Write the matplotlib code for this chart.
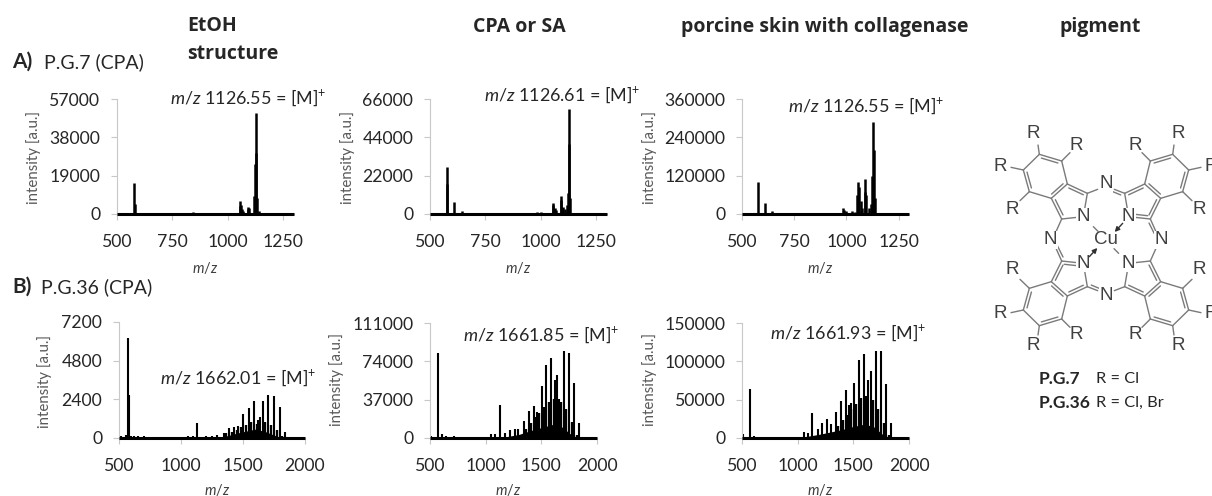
import numpy as np
import matplotlib
matplotlib.use('Agg')
import matplotlib.pyplot as plt

plt.rcParams['font.family'] = ['Lato', 'DejaVu Sans']
plt.rcParams['mathtext.fontset'] = 'custom'
plt.rcParams['mathtext.rm'] = 'Lato'
plt.rcParams['mathtext.it'] = 'Lato:italic'
plt.rcParams['mathtext.bf'] = 'Lato:bold'

W, H = 1212, 496
TEXT = '#262626'
GREY = '#c8c8c8'

# --- spectra: peak positions and heights ---
a1_mz = [576, 580, 845, 870, 985, 1000, 1054, 1057, 1062, 1066, 1070, 1090, 1092, 1097, 1120, 1122, 1126, 1130, 1134, 1140]
a1_int = [15500, 5000, 800, 600, 700, 500, 4000, 6500, 4500, 2500, 1500, 2500, 3500, 3000, 9000, 25000, 50000, 30000, 8000, 1500]
a2_mz = [575, 579, 610, 645, 680, 985, 1000, 1054, 1057, 1065, 1070, 1090, 1092, 1100, 1108, 1118, 1122, 1126, 1130, 1135]
a2_int = [27000, 17000, 7000, 1500, 500, 1000, 1000, 5000, 6500, 3500, 2500, 8000, 10500, 4000, 3000, 5000, 12000, 60000, 40000, 9000]
a3_mz = [525, 575, 610, 645, 985, 990, 1000, 1025, 1040, 1052, 1055, 1060, 1068, 1075, 1088, 1090, 1095, 1108, 1118, 1122, 1126, 1130, 1135]
a3_int = [3000, 100000, 35000, 8000, 20000, 14000, 10000, 10000, 6000, 60000, 100000, 85000, 40000, 20000, 70000, 110000, 60000,
          18000, 30000, 120000, 287000, 200000, 50000]
b1_mz = [520, 560, 575, 580, 600, 620, 650, 700, 760, 830, 900, 1000, 1060, 1100, 1127, 1205, 1250, 1290, 1345, 1386, 1429, 1461,
         1502, 1545, 1590, 1618, 1639, 1660, 1704, 1747, 1795, 1841]
b1_int = [100, 200, 6200, 2700, 130, 150, 110, 100, 90, 70, 60, 70, 120, 150, 950, 100, 130, 180, 280, 600, 700, 750,
          1500, 1850, 2300, 1100, 1300, 2300, 2700, 2600, 1950, 350]
b2_mz = [505, 575, 610, 640, 720, 1050, 1085, 1126, 1170, 1220, 1260, 1290, 1340, 1385, 1430, 1465, 1505, 1545,
         1590, 1620, 1640, 1660, 1705, 1750, 1795, 1840]
b2_int = [2000, 82000, 4000, 2000, 1500, 3500, 4000, 32000, 5000, 7500, 9000, 9000, 16000, 26000, 31000, 25000,
          50000, 70000, 77000, 56000, 61000, 38000, 84000, 82000, 53000, 14000]
b3_mz = [505, 575, 610, 1055, 1090, 1126, 1180, 1220, 1265, 1300, 1345, 1390, 1435, 1465, 1480, 1510, 1550,
         1595, 1635, 1655, 1705, 1750, 1795, 1840]
b3_int = [5000, 64000, 2000, 8000, 7000, 32000, 12000, 19000, 25000, 18000, 34000, 48000, 62000, 43000, 46000,
          72000, 102000, 109000, 76000, 87000, 114000, 113000, 71000, 19000]

# smaller isotope peaks between the main ones
minor_mz = [1365, 1408, 1450, 1482, 1525, 1568, 1612, 1680, 1726, 1771, 1818]
b1_minor = [300, 400, 500, 700, 800, 1000, 900, 1000, 800, 500, 100]
b2_minor = [9000, 14000, 20000, 24000, 30000, 35000, 38000, 35000, 28000, 15000, 3000]
b3_minor = [16000, 24000, 30000, 38000, 45000, 52000, 55000, 50000, 38000, 20000, 4000]

# dense low envelope under the isotope clusters of the B row
b1_hump_mz = [1300, 1380, 1450, 1520, 1600, 1680, 1760, 1810]
b1_hump_int = [30, 150, 300, 420, 550, 400, 150, 20]
b2_hump_mz = [1050, 1200, 1300, 1400, 1500, 1600, 1680, 1760, 1820]
b2_hump_int = [300, 1500, 3500, 7000, 10000, 13000, 11000, 4000, 500]
b3_hump_mz = [1000, 1100, 1200, 1300, 1400, 1500, 1600, 1680, 1760, 1820]
b3_hump_int = [500, 2500, 5000, 8000, 11000, 15000, 18000, 15000, 5000, 800]

a_ticks = [500, 750, 1000, 1250]
b_ticks = [500, 1000, 1500, 2000]

panels = [
    dict(box=(117, 99, 294, 214), mz=a1_mz, i=a1_int, xmax=1300, xt=a_ticks, yt=[0, 19000, 38000, 57000],
         ylab=(34, 157), xlab=(205, 268), note='1126.55', nx=170, ny=98),
    dict(box=(430, 99, 607, 214), mz=a2_mz, i=a2_int, xmax=1300, xt=a_ticks, yt=[0, 22000, 44000, 66000],
         ylab=(348, 158), xlab=(518, 268), note='1126.61', nx=484, ny=95),
    dict(box=(742, 99, 909, 214), mz=a3_mz, i=a3_int, xmax=1300, xt=a_ticks, yt=[0, 120000, 240000, 360000],
         ylab=(650, 158), xlab=(820, 268), note='1126.55', nx=788, ny=106),
    dict(box=(119, 322, 305, 438), mz=b1_mz, i=b1_int, xmax=2000, xt=b_ticks, yt=[0, 2400, 4800, 7200],
         ylab=(45, 381), xlab=(217, 490), note='1662.01', nx=160, ny=378,
         hump=(b1_hump_mz, b1_hump_int), minor=b1_minor),
    dict(box=(430, 323, 597, 438), mz=b2_mz, i=b2_int, xmax=2000, xt=b_ticks, yt=[0, 37000, 74000, 111000],
         ylab=(337, 380), xlab=(508, 490), note='1661.85', nx=463, ny=335,
         hump=(b2_hump_mz, b2_hump_int), minor=b2_minor),
    dict(box=(742, 323, 909, 438), mz=b3_mz, i=b3_int, xmax=2000, xt=b_ticks, yt=[0, 50000, 100000, 150000],
         ylab=(650, 380), xlab=(820, 490), note='1661.93', nx=770, ny=333,
         hump=(b3_hump_mz, b3_hump_int), minor=b3_minor),
]

fig = plt.figure(figsize=(W / 100, H / 100), dpi=100, facecolor='white')

for p in panels:
    x0, y0, x1, y1 = p['box']
    ax = fig.add_axes([x0 / W, 1 - y1 / H, (x1 - x0) / W, (y1 - y0) / H])
    ax.patch.set_alpha(0)
    ax.set_xlim(500, p['xmax'])
    ax.set_ylim(0, p['yt'][-1])
    if 'hump' in p:
        ax.fill_between(p['hump'][0], 0, p['hump'][1], color='black', lw=0, clip_on=False)
        ax.vlines(minor_mz, 0, p['minor'], color='black', lw=1.7)
    ax.vlines(p['mz'], 0, p['i'], color='black', lw=1.5 if 'hump' in p else 1.8)
    ax.plot([500, p['xmax']], [0, 0], color='black', lw=2.2, clip_on=False, solid_capstyle='butt', zorder=4)
    ax.set_xticks(p['xt'])
    ax.set_yticks(p['yt'])
    ax.tick_params(length=4, width=0.8, color=GREY, labelsize=12.7, labelcolor=TEXT)
    ax.tick_params(axis='x', pad=10.5)
    ax.tick_params(axis='y', pad=8)
    for s in ['top', 'right']:
        ax.spines[s].set_visible(False)
    for s in ['left', 'bottom']:
        ax.spines[s].set_color(GREY)

# overlay in pixel coordinates for captions and the structure
ov = fig.add_axes([0, 0, 1, 1], zorder=5)
ov.set_xlim(0, W)
ov.set_ylim(H, 0)
ov.axis('off')
ov.patch.set_alpha(0)

for p in panels:
    ov.text(*p['ylab'], 'intensity [a.u.]', rotation=90, ha='center', va='center', fontsize=10.8, color='#595959')
    ov.text(*p['xlab'], '$\\mathit{m/z}$', ha='center', va='center', fontsize=10.5, color='#404040')
    ov.text(p['nx'], p['ny'], '$\\mathit{m/z}$ ' + p['note'] + ' = [M]$^{+}$', ha='left', va='center',
            fontsize=12.9, color=TEXT)

head = dict(fontsize=14, fontweight='bold', color=TEXT, va='center', family='Open Sans')
ov.text(187, 26, 'EtOH', ha='left', **head)
ov.text(187, 54, 'structure', ha='left', **head)
ov.text(519, 27, 'CPA or SA', ha='center', **head)
ov.text(825, 27, 'porcine skin with collagenase', ha='center', **head)
ov.text(1100, 27, 'pigment', ha='center', **head)

ov.text(12, 62, 'A)', fontsize=15, fontweight='bold', color=TEXT, va='center')
ov.text(44, 62, 'P.G.7 (CPA)', fontsize=14, color=TEXT, va='center')
ov.text(12, 287, 'B)', fontsize=15, fontweight='bold', color=TEXT, va='center')
ov.text(41, 287, 'P.G.36 (CPA)', fontsize=14, color=TEXT, va='center')

ov.text(1039, 379, 'P.G.7', fontsize=12.5, fontweight='bold', color=TEXT, va='center')
ov.text(1096, 379, 'R = Cl', fontsize=11.8, color=TEXT, va='center')
ov.text(1039, 403, 'P.G.36', fontsize=12.5, fontweight='bold', color=TEXT, va='center')
ov.text(1096, 403, 'R = Cl, Br', fontsize=11.8, color=TEXT, va='center')

# --- copper phthalocyanine, one quadrant mirrored four times ---
cx, cy = 1106, 240
BOND = '#7a7a7a'
N_IN = (-68, -70)
C_TOP = (-56, -140)
C_FUS_A = (-116, -168)
C_FUS_B = (-164, -125)
C_LEFT = (-133, -63)
ring5 = [N_IN, C_TOP, C_FUS_A, C_FUS_B, C_LEFT]
bz = [C_FUS_A, (-133, -237), (-200, -257), (-248, -210), (-230, -145), C_FUS_B]
r_pos = [(-218, -318), (-88, -283), (-316, -220), (-280, -90)]
r_stub = [((-200, -257), (-204, -285)), ((-133, -237), (-108, -262)),
          ((-248, -210), (-285, -218)), ((-230, -145), (-258, -118))]
LBL = dict(family='Liberation Sans', fontsize=13.5, color='#404040', ha='center', va='center')


def to_px(pt, sx, sy):
    return cx + sx * pt[0] / 3, cy + sy * pt[1] / 3


def seg(a, b, sx, sy, lw=1.0):
    (xa, ya), (xb, yb) = to_px(a, sx, sy), to_px(b, sx, sy)
    ov.plot([xa, xb], [ya, yb], color=BOND, lw=lw, solid_capstyle='round')


def double(a, b, toward, sx, sy):
    a, b, toward = np.array(a, float), np.array(b, float), np.array(toward, float)
    m = (a + b) / 2
    d = (b - a) / np.linalg.norm(b - a)
    n = np.array([-d[1], d[0]])
    if np.dot(n, toward - m) < 0:
        n = -n
    seg(a + d * 9 + n * 9, b - d * 9 + n * 9, sx, sy)


bz_c = np.mean(bz, axis=0)
r5_c = np.mean(ring5, axis=0)
for sx, sy in [(1, 1), (-1, 1), (1, -1), (-1, -1)]:
    for i in range(5):
        seg(ring5[i], ring5[(i + 1) % 5], sx, sy)
    for i in range(len(bz) - 1):
        seg(bz[i], bz[i + 1], sx, sy)
    double(bz[1], bz[2], bz_c, sx, sy)
    double(bz[3], bz[4], bz_c, sx, sy)
    double(bz[0], bz[5], bz_c, sx, sy)
    double(C_TOP, C_FUS_A, r5_c, sx, sy)
    double(C_FUS_B, C_LEFT, r5_c, sx, sy)
    for a, b in r_stub:
        seg(a, b, sx, sy)
    for rp in r_pos:
        x, y = to_px(rp, sx, sy)
        ov.text(x, y, 'R', **LBL)
    # bonds to the bridging N atoms
    seg(C_TOP, (-25, -152), sx, sy)
    seg(C_LEFT, (-150, -25), sx, sy)
    if sx * sy < 0:
        double(N_IN, C_LEFT, r5_c, sx, sy)
        double(C_TOP, (-15, -157), (-40, -100), sx, sy)
        double(C_LEFT, (-157, -15), (-100, -40), sx, sy)
    x, y = to_px(N_IN, sx, sy)
    ov.text(x, y, 'N', bbox=dict(fc='white', ec='none', pad=0.4), **LBL)

for pt in [(0, -168), (0, 168), (-166, 0), (166, 0)]:
    x, y = to_px(pt, 1, 1)
    ov.text(x, y, 'N', bbox=dict(fc='white', ec='none', pad=0.4), **LBL)

seg((-38, -40), (-24, -26), 1, 1)
seg((38, 40), (24, 26), 1, 1)
for sx, sy in [(1, -1), (-1, 1)]:
    tail, tip = to_px((-50, -50), sx, sy), to_px((-26, -24), sx, sy)
    ov.annotate('', xy=tip, xytext=tail, arrowprops=dict(arrowstyle='-|>', color='#303030', lw=1, mutation_scale=7,
                                                          shrinkA=0, shrinkB=0))
ov.text(cx, cy, 'Cu', **LBL)

fig.savefig('out.png', dpi=100)
